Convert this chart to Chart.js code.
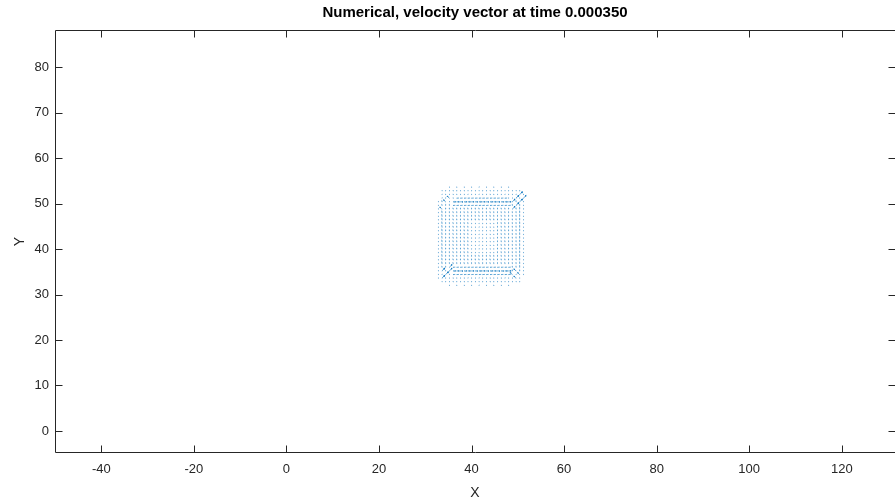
<!DOCTYPE html>
<html lang="en">
  <head>
    <meta charset="UTF-8" />
    <title>Numerical, velocity vector</title>
    <style>
      html, body { margin: 0; padding: 0; background: #fff; }
      #wrap { width: 895px; height: 502px; }
    </style>
  </head>
  <body>
    <div id="wrap"><canvas id="quiver"></canvas></div>

    <script src="https://cdn.jsdelivr.net/npm/chart.js@4.4.1/dist/chart.umd.min.js"></script>
    <script>
      // quiver grid (columns = x, rows = y from top to bottom)
      var gridX = [32.0, 32.8, 33.6, 34.4, 35.2, 36.0, 36.8, 37.6, 38.4, 39.2, 40.0, 40.8, 41.6,
                   42.4, 43.2, 44.0, 44.8, 45.6, 46.4, 47.2, 48.0, 48.8, 49.6, 50.4, 51.2, 52.0];
      var gridY = [53.6, 52.8, 52.0, 51.2, 50.4, 49.6, 48.8, 48.0, 47.2, 46.4, 45.6, 44.8, 44.0, 43.2,
                   42.4, 41.6, 40.8, 40.0, 39.2, 38.4, 37.6, 36.8, 36.0, 35.2, 34.4, 33.6, 32.8, 32.0];

      // one char per grid point, see arrowKinds
      var fieldRows = [
        "    . . . . . . . . .     ",
        "  ......................  ",
        "  ...................../. ",
        "  ..n.--------------.././ ",
        " .:n.================/:/. ",
        " .:::----------------:/:. ",
        " .n::::::::::::::::::/:|. ",
        " .|::::::::::::::::::::|. ",
        " .|::::::::::::::::::::|. ",
        " .|::::::::::::::::::::|. ",
        " .|:::::::.......::::::|. ",
        " .|:::::::.......::::::|. ",
        " .|:::::::.......::::::|. ",
        " .|:::::::.......::::::|. ",
        " .|:::::::.......::::::|. ",
        " .|:::::::.......::::::|. ",
        " .|:::::::.......::::::|. ",
        " .|:::::::.......::::::|. ",
        " .|:::::::.......::::::|. ",
        " .|::::::::::::::::::::|. ",
        " .|::::::::::::::::::::|. ",
        " .|::::::::::::::::::::|. ",
        " .::/----------------::|. ",
        " ././================:n:. ",
        " ../.----------------n.n. ",
        " ./...................n.  ",
        "  ......................  ",
        "    . . . . . . . . .     "
      ];

      // [u, v] of each kind of arrow, in axis units
      var arrowKinds = {
        ".": [0.04, 0.08],
        ":": [0.01, 0.25],
        "|": [0.0, 0.4],
        "-": [0.4, 0.03],
        "=": [0.55, 0.0],
        "/": [0.6, 0.6],
        "n": [-0.45, 0.45]
      };

      var xTicks = [-40, -20, 0, 20, 40, 60, 80, 100, 120];
      var yTicks = [0, 10, 20, 30, 40, 50, 60, 70, 80];
      var xRange = [-50, 131.5];
      var yRange = [-4.85, 88.2];

      var axisColor = '#262626';
      var arrowColor = '#0072BD';
      var fontName = "'Liberation Sans', Arial, Helvetica, sans-serif";

      // every arrow becomes a little polyline: tail -> tip -> head -> tip -> head, then a gap
      var arrowPts = [];
      for (var r = 0; r < fieldRows.length; r++) {
        for (var c = 0; c < gridX.length; c++) {
          var k = arrowKinds[fieldRows[r].charAt(c)];
          if (!k) continue;
          var x0 = gridX[c], y0 = gridY[r];
          var x1 = x0 + k[0], y1 = y0 + k[1];
          arrowPts.push({ x: x0, y: y0 }, { x: x1, y: y1 });
          var len = Math.sqrt(k[0] * k[0] + k[1] * k[1]);
          if (len > 0.5) {
            var ang = Math.atan2(k[1], k[0]);
            var h = 0.3 * len;
            arrowPts.push({ x: x1 - h * Math.cos(ang - 0.45), y: y1 - h * Math.sin(ang - 0.45) });
            arrowPts.push({ x: x1, y: y1 });
            arrowPts.push({ x: x1 - h * Math.cos(ang + 0.45), y: y1 - h * Math.sin(ang + 0.45) });
          }
          arrowPts.push({ x: x1, y: null });
        }
      }

      // matlab style box with inward ticks on all four sides
      var boxPlugin = {
        id: 'box',
        afterDatasetsDraw: function (chart) {
          var a = chart.chartArea, ctx = chart.ctx;
          var sx = chart.scales.x, sy = chart.scales.y;
          var L = Math.round(a.left) + 0.5, R = Math.round(a.right) + 0.5;
          var T = Math.round(a.top) + 0.5, B = Math.round(a.bottom) - 0.5;
          var tl = 7;
          ctx.save();
          ctx.strokeStyle = axisColor;
          ctx.lineWidth = 1;
          ctx.beginPath();
          ctx.moveTo(L, T); ctx.lineTo(R, T); ctx.lineTo(R, B); ctx.lineTo(L, B); ctx.closePath();
          xTicks.forEach(function (v) {
            var px = Math.round(sx.getPixelForValue(v)) + 0.5;
            ctx.moveTo(px, B); ctx.lineTo(px, B - tl);
            ctx.moveTo(px, T); ctx.lineTo(px, T + tl);
          });
          yTicks.forEach(function (v) {
            var py = Math.round(sy.getPixelForValue(v)) + 0.5;
            ctx.moveTo(L, py); ctx.lineTo(L + tl, py);
            ctx.moveTo(R, py); ctx.lineTo(R - tl, py);
          });
          ctx.stroke();
          ctx.restore();
        }
      };

      var ctx = document.getElementById('quiver');
      var chart = new Chart(ctx, {
        type: 'scatter',
        data: {
          datasets: [{
            label: 'velocity',
            data: arrowPts,
            showLine: true,
            spanGaps: false,
            pointRadius: 0,
            borderWidth: 0.6,
            borderColor: arrowColor,
            borderCapStyle: 'round',
            tension: 0
          }]
        },
        options: {
          responsive: true,
          maintainAspectRatio: false,
          animation: false,
          events: [],
          layout: { padding: { left: 0, right: 0, top: 0, bottom: 0 } },
          plugins: {
            legend: { display: false },
            tooltip: { enabled: false },
            title: {
              display: true,
              fullSize: false,
              text: 'Numerical, velocity vector at time 0.000350',
              color: '#000',
              font: { family: fontName, size: 15, weight: 'bold' },
              padding: { top: 4, bottom: 8 }
            }
          },
          scales: {
            x: {
              type: 'linear',
              min: xRange[0],
              max: xRange[1],
              grid: { display: false, drawTicks: false },
              border: { display: false },
              afterBuildTicks: function (s) { s.ticks = xTicks.map(function (v) { return { value: v }; }); },
              afterFit: function (s) { s.height = 49; },
              ticks: { color: axisColor, padding: 9, maxRotation: 0, font: { family: fontName, size: 13 } },
              title: { display: true, text: 'X', color: axisColor, font: { family: fontName, size: 14 }, padding: { top: 6, bottom: 0 } }
            },
            y: {
              type: 'linear',
              min: yRange[0],
              max: yRange[1],
              grid: { display: false, drawTicks: false },
              border: { display: false },
              afterBuildTicks: function (s) { s.ticks = yTicks.map(function (v) { return { value: v }; }); },
              afterFit: function (s) { s.width = 55; },
              ticks: { color: axisColor, padding: 6, font: { family: fontName, size: 13 } },
              title: { display: true, text: 'Y', color: axisColor, font: { family: fontName, size: 14 }, padding: { top: 12, bottom: 0 } }
            }
          }
        },
        plugins: [boxPlugin]
      });
    </script>
  </body>
</html>
